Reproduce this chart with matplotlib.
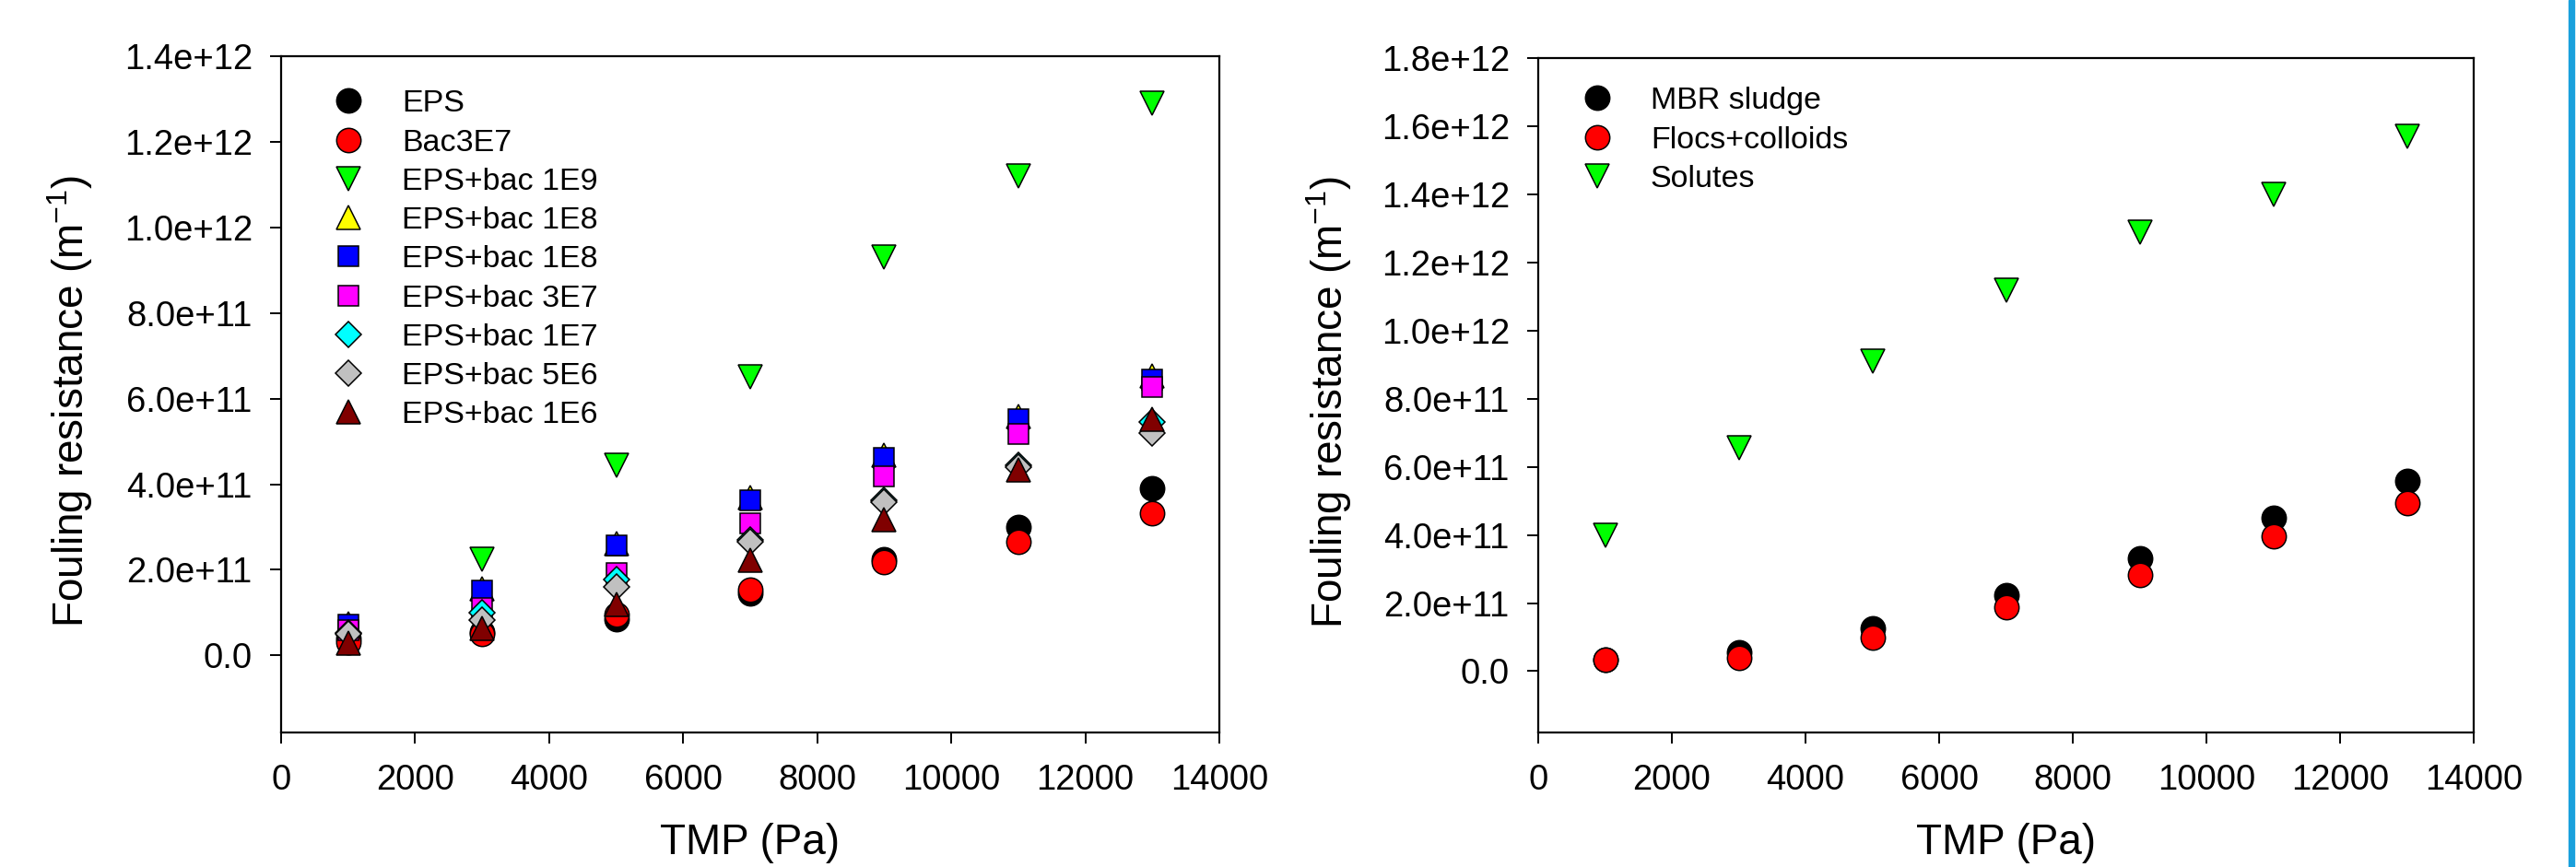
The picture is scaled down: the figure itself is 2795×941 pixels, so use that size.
# Fouling resistance vs TMP, two panels (SigmaPlot style)

from matplotlib import pyplot as plt

plt.rcParams['font.family'] = ['Liberation Sans', 'DejaVu Sans']
plt.rcParams['mathtext.default'] = 'regular'

tmp = [1000, 3000, 5000, 7000, 9000, 11000, 13000]

# left panel (units of 1e11 m-1)
eps = [0.40, 0.55, 0.85, 1.45, 2.25, 3.00, 3.90]
bac3e7 = [0.30, 0.50, 0.95, 1.53, 2.18, 2.65, 3.32]
bac1e9 = [None, 2.25, 4.45, 6.50, 9.30, 11.20, 12.90]
bac1e8_y = [0.75, 1.55, 2.62, 3.68, 4.67, 5.58, 6.52]
bac1e8_b = [0.71, 1.51, 2.56, 3.62, 4.61, 5.52, 6.45]
bac3e7_p = [0.60, 1.10, 1.92, 3.08, 4.18, 5.17, 6.27]
bac1e7 = [0.52, 1.00, 1.78, 2.70, 3.62, 4.45, 5.45]
bac5e6 = [0.50, 0.82, 1.60, 2.65, 3.58, 4.40, 5.19]
bac1e6 = [0.28, 0.63, 1.20, 2.22, 3.17, 4.33, 5.52]

# right panel (units of 1e11 m-1)
mbr = [0.35, 0.54, 1.27, 2.22, 3.30, 4.49, 5.58]
flocs = [0.33, 0.38, 0.98, 1.87, 2.82, 3.95, 4.93]
solutes = [3.98, 6.55, 9.10, 11.18, 12.90, 14.00, 15.70]

left_ticks = [0, 2, 4, 6, 8, 10, 12, 14]
left_labels = ['0.0', '2.0e+11', '4.0e+11', '6.0e+11', '8.0e+11',
               '1.0e+12', '1.2e+12', '1.4e+12']
right_ticks = [0, 2, 4, 6, 8, 10, 12, 14, 16, 18]
right_labels = ['0.0', '2.0e+11', '4.0e+11', '6.0e+11', '8.0e+11',
                '1.0e+12', '1.2e+12', '1.4e+12', '1.6e+12', '1.8e+12']
x_ticks = [0, 2000, 4000, 6000, 8000, 10000, 12000, 14000]


def scaled(vals):
    return [v * 1e11 if v is not None else float('nan') for v in vals]


def style_axes(ax, ticks, labels, ymin, ymax):
    ax.set_xlim(0, 14000)
    ax.set_ylim(ymin, ymax)
    ax.set_xticks(x_ticks)
    ax.set_xticklabels([str(t) for t in x_ticks])
    ax.set_yticks([t * 1e11 for t in ticks])
    ax.set_yticklabels(labels)
    ax.tick_params(direction='out', length=8.5, width=1.4, labelsize=27.5, pad=14)
    ax.tick_params(axis='x', pad=16)
    for s in ax.spines.values():
        s.set_linewidth(1.6)
    ax.set_xlabel('TMP (Pa)', fontsize=33, labelpad=20)
    ax.set_ylabel('Fouling resistance (m$^{-1}$)', fontsize=33)


fig = plt.figure(figsize=(27.95, 9.41), dpi=100)
ax1 = fig.add_axes([305 / 2795, 1 - 795 / 941, 1018 / 2795, 734 / 941])
ax2 = fig.add_axes([1669 / 2795, 1 - 795 / 941, 1015 / 2795, 732 / 941])

left_series = [
    (eps, 'EPS', 'o', 'black', 19),
    (bac3e7, 'Bac3E7', 'o', '#ff0000', 19),
    (bac1e9, 'EPS+bac 1E9', 'v', '#00ff00', 19),
    (bac1e8_y, 'EPS+bac 1E8', '^', '#ffff00', 19),
    (bac1e8_b, 'EPS+bac 1E8', 's', '#0000ff', 16),
    (bac3e7_p, 'EPS+bac 3E7', 's', '#ff00ff', 16),
    (bac1e7, 'EPS+bac 1E7', 'D', '#00ffff', 14.5),
    (bac5e6, 'EPS+bac 5E6', 'D', '#c0c0c0', 14.5),
    (bac1e6, 'EPS+bac 1E6', '^', '#800000', 19),
]
for vals, name, mk, col, ms in left_series:
    ax1.plot(tmp, scaled(vals), linestyle='none', marker=mk, markersize=ms,
             markerfacecolor=col, markeredgecolor='black', markeredgewidth=1.1,
             label=name)

right_series = [
    (mbr, 'MBR sludge', 'o', 'black', 19),
    (flocs, 'Flocs+colloids', 'o', '#ff0000', 19),
    (solutes, 'Solutes', 'v', '#00ff00', 19),
]
for vals, name, mk, col, ms in right_series:
    ax2.plot(tmp, scaled(vals), linestyle='none', marker=mk, markersize=ms,
             markerfacecolor=col, markeredgecolor='black', markeredgewidth=1.1,
             label=name)

style_axes(ax1, left_ticks, left_labels, -1.8e11, 1.4e12)
style_axes(ax2, right_ticks, right_labels, -1.8e11, 1.8e12)

ax1.legend(loc='upper left', bbox_to_anchor=(0.042, 0.969), borderaxespad=0,
           frameon=False, fontsize=24.5, handlelength=1.0, handletextpad=1.2,
           labelspacing=0.33, numpoints=1)
ax2.legend(loc='upper left', bbox_to_anchor=(0.033, 0.976), borderaxespad=0,
           frameon=False, fontsize=24.5, handlelength=1.0, handletextpad=1.2,
           labelspacing=0.34, numpoints=1)

ax1.yaxis.set_label_coords(-0.198, 0.49)
ax2.yaxis.set_label_coords(-0.197, 0.49)

# thin blue strip on the right edge
fig.add_artist(plt.Rectangle((2787 / 2795, 0), 6 / 2795, 1,
                             transform=fig.transFigure, color='#1aa0dc'))

fig.savefig('out.png', dpi=100)
